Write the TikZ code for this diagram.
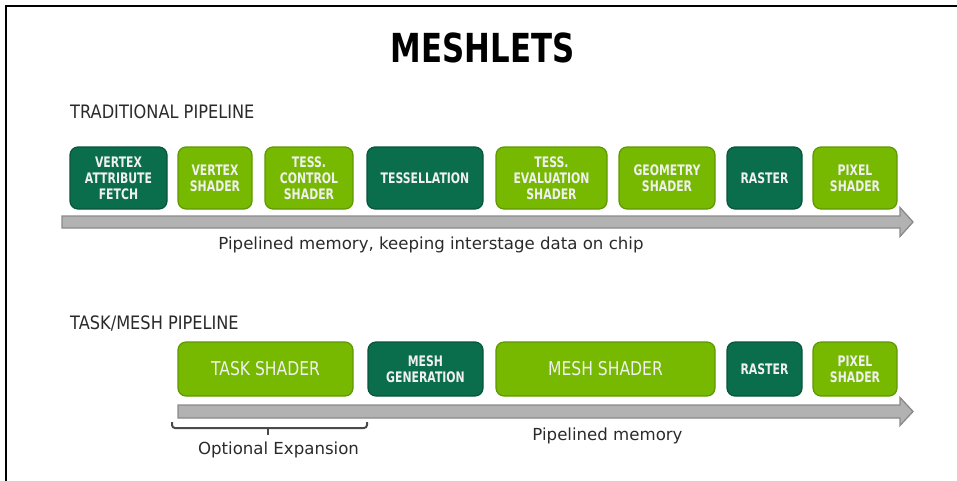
\documentclass[tikz,border=0pt]{standalone}
\usepackage{fontspec}
\setmainfont{DejaVu Sans}
\newfontfamily\labfont[FakeStretch=0.75]{DejaVu Sans Bold}
\newfontfamily\biglabfont[FakeStretch=0.82]{DejaVu Sans}
\newfontfamily\headfont[FakeStretch=0.875]{DejaVu Sans}
\newfontfamily\titlefont[FakeStretch=0.77]{DejaVu Sans}
\definecolor{lgreen}{HTML}{76B900}
\definecolor{lgreenB}{HTML}{5E9800}
\definecolor{dgreen}{HTML}{0A6E4C}
\definecolor{dgreenB}{HTML}{07553A}
\definecolor{arrowfill}{HTML}{B2B2B2}
\definecolor{arrowline}{HTML}{8A8A8A}
\definecolor{txt}{HTML}{2A2A2A}
\definecolor{boxtxt}{HTML}{F0F0F0}
\tikzset{
  stagebox/.style={rounded corners=8pt, line width=1.2pt, inner sep=0pt, align=center,
    text=boxtxt, font=\labfont\fontsize{14.5}{16}\selectfont},
  lightbox/.style={stagebox, fill=lgreen, draw=lgreenB},
  darkbox/.style={stagebox, fill=dgreen, draw=dgreenB},
  bigtxt/.style={font=\biglabfont\fontsize{19}{20}\selectfont},
  pipearrow/.style={fill=arrowfill, draw=arrowline, line width=1.3pt, line join=miter},
  caption/.style={inner sep=0pt, anchor=base, text=txt, font=\fontsize{16.6}{19}\selectfont},
  heading/.style={inner sep=0pt, anchor=base west, text=txt, font=\headfont\fontsize{18.5}{20}\selectfont},
}
\begin{document}
\begin{tikzpicture}[x=1pt,y=-1pt]
\useasboundingbox (0,0) rectangle (957,480);
% frame
\draw[line width=2.5pt, line cap=rect] (6,481) -- (6,6) -- (958,6);
% title
\node[inner sep=0pt, text=black, font=\titlefont\bfseries\fontsize{40}{44}\selectfont, anchor=base] (title) at (482.5,62) {MESHLETS};
\node[heading] (trad) at (70,118) {TRADITIONAL PIPELINE};
\node[heading] (task) at (70,329) {TASK/MESH PIPELINE};
% traditional arrow
\draw[pipearrow] (62,216) -- (900,216) -- (900,207.5) -- (913,222) -- (900,236.5) -- (900,228) -- (62,228) -- cycle;
% traditional boxes
\node[darkbox, minimum width=97pt, minimum height=62pt] (vaf) at (118.5,178) {VERTEX\\ATTRIBUTE\\FETCH};
\node[lightbox, minimum width=74pt, minimum height=62pt] (vs) at (215,178) {VERTEX\\SHADER};
\node[lightbox, minimum width=88pt, minimum height=62pt] (tcs) at (309,178) {TESS.\\CONTROL\\SHADER};
\node[darkbox, minimum width=116pt, minimum height=62pt] (tess) at (425,178) {TESSELLATION};
\node[lightbox, minimum width=111pt, minimum height=62pt] (tes) at (551.5,178) {TESS.\\EVALUATION\\SHADER};
\node[lightbox, minimum width=96pt, minimum height=62pt] (gs) at (667,178) {GEOMETRY\\SHADER};
\node[darkbox, minimum width=75pt, minimum height=62pt] (ras1) at (764.5,178) {RASTER};
\node[lightbox, minimum width=84pt, minimum height=62pt] (ps1) at (855,178) {PIXEL\\SHADER};
\node[caption] (cap1) at (431,249) {Pipelined memory, keeping interstage data on chip};
% task/mesh arrow
\draw[pipearrow] (178,405) -- (900,405) -- (900,397.5) -- (913,411.5) -- (900,425.5) -- (900,418) -- (178,418) -- cycle;
% task/mesh boxes
\node[lightbox, bigtxt, minimum width=175pt, minimum height=54pt] (ts) at (265.5,369) {TASK SHADER};
\node[darkbox, minimum width=115pt, minimum height=54pt] (mg) at (425.5,369) {MESH\\GENERATION};
\node[lightbox, bigtxt, minimum width=219pt, minimum height=54pt] (ms) at (605.5,369) {MESH SHADER};
\node[darkbox, minimum width=75pt, minimum height=54pt] (ras2) at (764.5,369) {RASTER};
\node[lightbox, minimum width=84pt, minimum height=54pt] (ps2) at (855,369) {PIXEL\\SHADER};
% brace
\coordinate (bl) at (172,422);
\coordinate (br) at (367,422);
\coordinate (bm) at (268,428);
\draw[line width=2pt, draw=txt!85, rounded corners=3pt] (bl) |- (bm) -| (br);
\draw[line width=2pt, draw=txt!85] (bm) -- ++(0,7);
\node[caption] (opt) at (278.5,454) {Optional Expansion};
\node[caption] (cap2) at (607.5,440) {Pipelined memory};
\end{tikzpicture}
\end{document}
